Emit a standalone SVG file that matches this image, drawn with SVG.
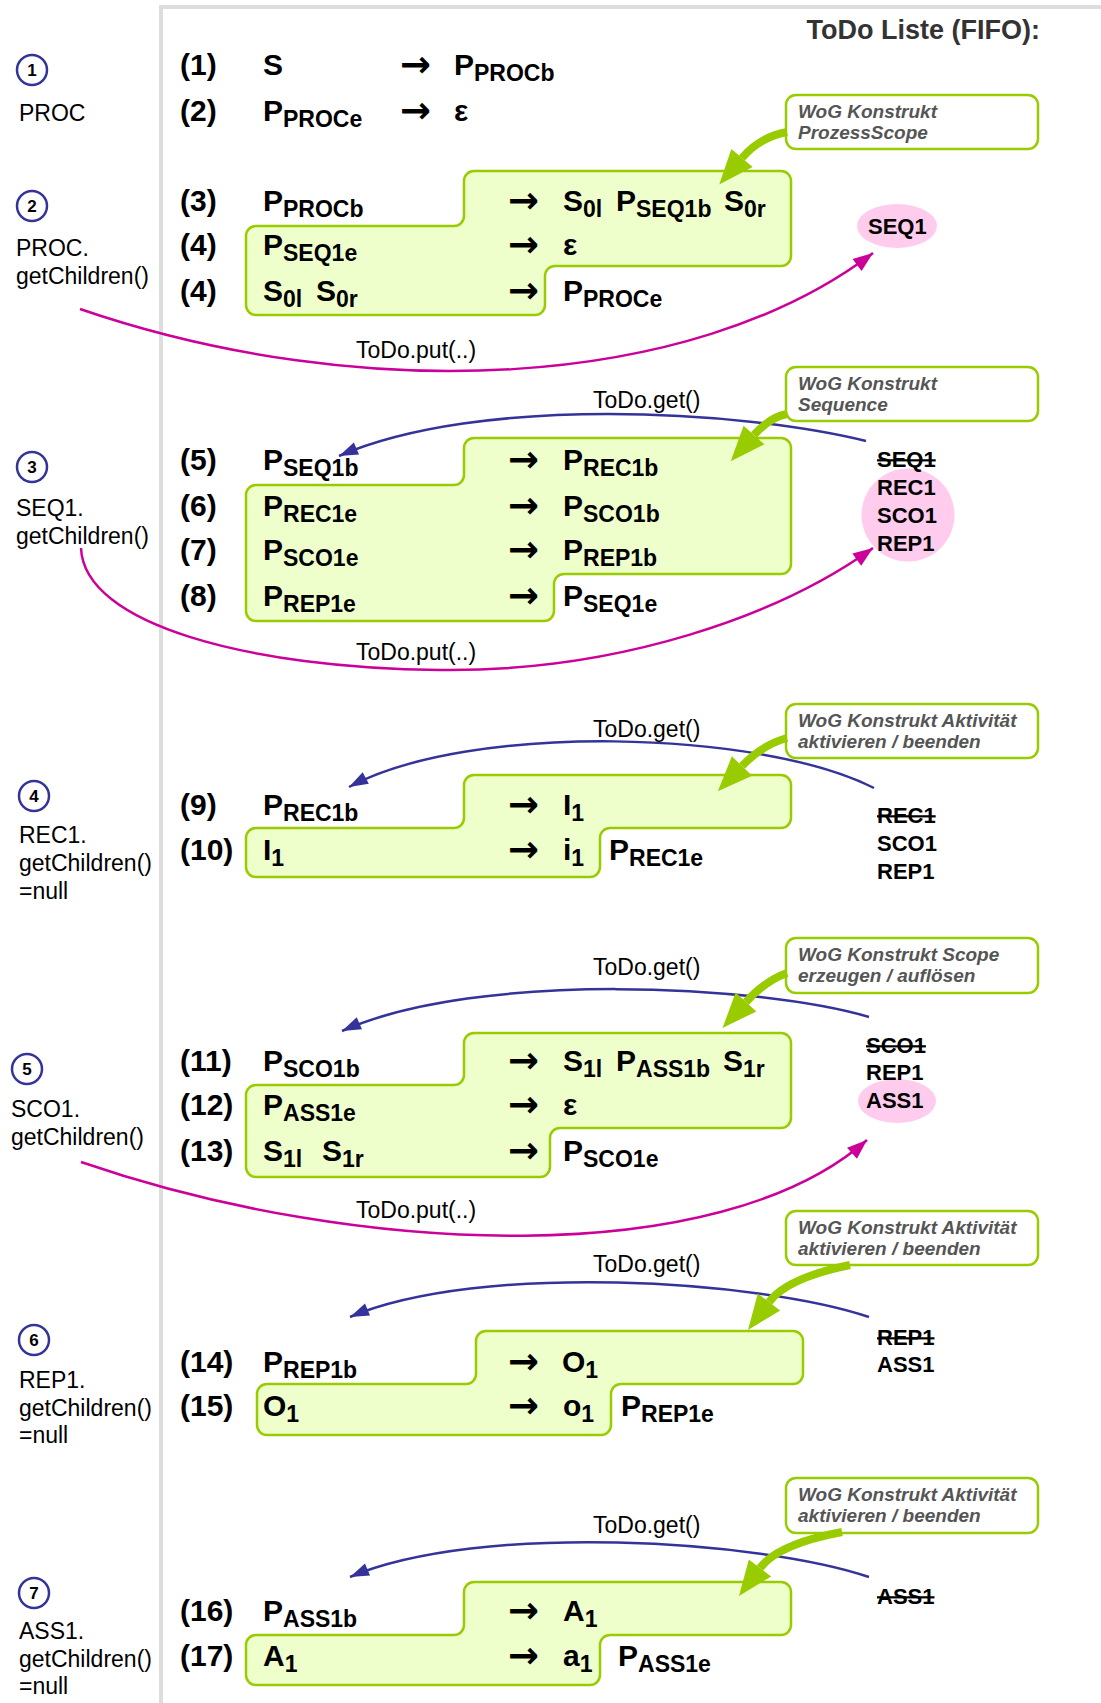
<svg xmlns="http://www.w3.org/2000/svg" width="1101" height="1703" viewBox="0 0 1101 1703">
<style>
  text { font-family: "Liberation Sans", Arial, sans-serif; fill: #000; }
  .lbl { font-size: 23px; }
  .num { font-size: 17px; font-weight: bold; text-anchor: middle; }
  .r { font-size: 30px; font-weight: bold; }
  .sub { font-size: 23px; }
  .arr { font-family: "DejaVu Sans", sans-serif; font-size: 37px; font-weight: bold; }
  .q { font-size: 22px; font-weight: bold; }
  .done { text-decoration: line-through; }
  .wog { font-size: 19px; font-weight: bold; font-style: italic; fill: #555; }
  .todo { font-size: 23px; }
  .title { font-size: 27px; font-weight: bold; fill: #333; text-anchor: end; }
  .step { fill: none; stroke: #333399; stroke-width: 2.5; }
  .block { fill: #eeffcc; stroke: #99cc00; stroke-width: 2.5; }
  .box { fill: #fff; stroke: #99cc00; stroke-width: 2.5; }
  .mark { fill: #ffccee; }
  .get { fill: none; stroke: #333399; stroke-width: 2.5; marker-end: url(#headGet); }
  .put { fill: none; stroke: #cc0099; stroke-width: 2.5; marker-end: url(#headPut); }
  .hint { fill: none; stroke: #99cc00; stroke-width: 8; marker-end: url(#headHint); }
</style>
<defs>
  <marker id="headGet" markerUnits="userSpaceOnUse" markerWidth="20" markerHeight="14" refX="19" refY="6.5" orient="auto" overflow="visible">
    <path d="M0,0 L19,6.5 L0,13 Z" fill="#333399"/>
  </marker>
  <marker id="headPut" markerUnits="userSpaceOnUse" markerWidth="21" markerHeight="16" refX="20" refY="7.5" orient="auto" overflow="visible">
    <path d="M0,0 L20,7.5 L0,15 Z" fill="#cc0099"/>
  </marker>
  <marker id="headHint" markerUnits="userSpaceOnUse" markerWidth="36" markerHeight="30" refX="0" refY="14" orient="auto" overflow="visible">
    <path d="M0,0 L35,14 L0,28 Z" fill="#99cc00"/>
  </marker>
</defs>

<rect width="1101" height="1703" fill="#fff"/>

<!-- frame -->
<g id="frame">
  <path d="M161,1703 L161,7 L1101,7" fill="none" stroke="#dddddd" stroke-width="4"/>
  <text class="title" x="1040" y="39">ToDo Liste (FIFO):</text>
</g>

<!-- call steps on the left -->
<g id="step-1">
  <circle class="step" cx="32" cy="70" r="15"/>
  <text class="num" x="32" y="76">1</text>
  <text class="lbl" x="19" y="121">PROC</text>
</g>
<g id="step-2">
  <circle class="step" cx="32" cy="206" r="15"/>
  <text class="num" x="32" y="212">2</text>
  <text class="lbl" x="16" y="256">PROC.</text>
  <text class="lbl" x="16" y="284">getChildren()</text>
</g>
<g id="step-3">
  <circle class="step" cx="32" cy="467" r="15"/>
  <text class="num" x="32" y="473">3</text>
  <text class="lbl" x="16" y="516">SEQ1.</text>
  <text class="lbl" x="16" y="544">getChildren()</text>
</g>
<g id="step-4">
  <circle class="step" cx="34" cy="796" r="15"/>
  <text class="num" x="34" y="802">4</text>
  <text class="lbl" x="19" y="843">REC1.</text>
  <text class="lbl" x="19" y="871">getChildren()</text>
  <text class="lbl" x="19" y="899">=null</text>
</g>
<g id="step-5">
  <circle class="step" cx="27" cy="1069" r="15"/>
  <text class="num" x="27" y="1075">5</text>
  <text class="lbl" x="11" y="1117">SCO1.</text>
  <text class="lbl" x="11" y="1145">getChildren()</text>
</g>
<g id="step-6">
  <circle class="step" cx="34" cy="1340" r="15"/>
  <text class="num" x="34" y="1346">6</text>
  <text class="lbl" x="19" y="1388">REP1.</text>
  <text class="lbl" x="19" y="1416">getChildren()</text>
  <text class="lbl" x="19" y="1443">=null</text>
</g>
<g id="step-7">
  <circle class="step" cx="34" cy="1593" r="15"/>
  <text class="num" x="34" y="1599">7</text>
  <text class="lbl" x="19" y="1639">ASS1.</text>
  <text class="lbl" x="19" y="1667">getChildren()</text>
  <text class="lbl" x="19" y="1694">=null</text>
</g>

<!-- grammar rules -->
<g id="rules-proc">
  <text class="r" x="180" y="75">(1)</text>
  <text class="r" x="263" y="75">S</text>
  <text class="arr" x="400" y="77">→</text>
  <text class="r" x="454" y="75">P<tspan class="sub" dy="6">PROCb</tspan></text>
  <text class="r" x="180" y="121">(2)</text>
  <text class="r" x="263" y="121">P<tspan class="sub" dy="6">PROCe</tspan></text>
  <text class="arr" x="400" y="123">→</text>
  <text class="r" x="454" y="121">ε</text>
</g>

<g id="rules-proc-children">
  <path class="block" d="M464,181 A10,10 0 0 1 474,171 L781,171 A10,10 0 0 1 791,181 L791,256 A10,10 0 0 1 781,266 L555,266 A10,10 0 0 0 545,276 L545,305 A10,10 0 0 1 535,315 L256,315 A10,10 0 0 1 246,305 L246,236 A10,10 0 0 1 256,226 L454,226 A10,10 0 0 0 464,216 Z"/>
  <text class="r" x="180" y="211">(3)</text>
  <text class="r" x="263" y="211">P<tspan class="sub" dy="6">PROCb</tspan></text>
  <text class="arr" x="508" y="213">→</text>
  <text class="r" x="563" y="211">S<tspan class="sub" dy="6">0l</tspan></text>
  <text class="r" x="616" y="211">P<tspan class="sub" dy="6">SEQ1b</tspan></text>
  <text class="r" x="724" y="211">S<tspan class="sub" dy="6">0r</tspan></text>
  <text class="r" x="180" y="255">(4)</text>
  <text class="r" x="263" y="255">P<tspan class="sub" dy="6">SEQ1e</tspan></text>
  <text class="arr" x="508" y="257">→</text>
  <text class="r" x="563" y="255">ε</text>
  <text class="r" x="180" y="301">(4)</text>
  <text class="r" x="263" y="301">S<tspan class="sub" dy="6">0l</tspan></text>
  <text class="r" x="316" y="301">S<tspan class="sub" dy="6">0r</tspan></text>
  <text class="arr" x="508" y="303">→</text>
  <text class="r" x="563" y="301">P<tspan class="sub" dy="6">PROCe</tspan></text>
</g>

<g id="rules-seq1">
  <path class="block" d="M464,448 A10,10 0 0 1 474,438 L781,438 A10,10 0 0 1 791,448 L791,564 A10,10 0 0 1 781,574 L564,574 A10,10 0 0 0 554,584 L554,611 A10,10 0 0 1 544,621 L256,621 A10,10 0 0 1 246,611 L246,495 A10,10 0 0 1 256,485 L454,485 A10,10 0 0 0 464,475 Z"/>
  <text class="r" x="180" y="470">(5)</text>
  <text class="r" x="263" y="470">P<tspan class="sub" dy="6">SEQ1b</tspan></text>
  <text class="arr" x="508" y="472">→</text>
  <text class="r" x="563" y="470">P<tspan class="sub" dy="6">REC1b</tspan></text>
  <text class="r" x="180" y="516">(6)</text>
  <text class="r" x="263" y="516">P<tspan class="sub" dy="6">REC1e</tspan></text>
  <text class="arr" x="508" y="518">→</text>
  <text class="r" x="563" y="516">P<tspan class="sub" dy="6">SCO1b</tspan></text>
  <text class="r" x="180" y="560">(7)</text>
  <text class="r" x="263" y="560">P<tspan class="sub" dy="6">SCO1e</tspan></text>
  <text class="arr" x="508" y="562">→</text>
  <text class="r" x="563" y="560">P<tspan class="sub" dy="6">REP1b</tspan></text>
  <text class="r" x="180" y="606">(8)</text>
  <text class="r" x="263" y="606">P<tspan class="sub" dy="6">REP1e</tspan></text>
  <text class="arr" x="508" y="608">→</text>
  <text class="r" x="563" y="606">P<tspan class="sub" dy="6">SEQ1e</tspan></text>
</g>

<g id="rules-rec1">
  <path class="block" d="M464,785 A10,10 0 0 1 474,775 L781,775 A10,10 0 0 1 791,785 L791,818 A10,10 0 0 1 781,828 L610,828 A10,10 0 0 0 600,838 L600,867 A10,10 0 0 1 590,877 L256,877 A10,10 0 0 1 246,867 L246,838 A10,10 0 0 1 256,828 L454,828 A10,10 0 0 0 464,818 Z"/>
  <text class="r" x="180" y="815">(9)</text>
  <text class="r" x="263" y="815">P<tspan class="sub" dy="6">REC1b</tspan></text>
  <text class="arr" x="508" y="817">→</text>
  <text class="r" x="563" y="815">I<tspan class="sub" dy="6">1</tspan></text>
  <text class="r" x="180" y="860">(10)</text>
  <text class="r" x="263" y="860">I<tspan class="sub" dy="6">1</tspan></text>
  <text class="arr" x="508" y="862">→</text>
  <text class="r" x="563" y="860">i<tspan class="sub" dy="6">1</tspan></text>
  <text class="r" x="609" y="860">P<tspan class="sub" dy="6">REC1e</tspan></text>
</g>

<g id="rules-sco1">
  <path class="block" d="M464,1043 A10,10 0 0 1 474,1033 L781,1033 A10,10 0 0 1 791,1043 L791,1118 A10,10 0 0 1 781,1128 L560,1128 A10,10 0 0 0 550,1138 L550,1167 A10,10 0 0 1 540,1177 L256,1177 A10,10 0 0 1 246,1167 L246,1095 A10,10 0 0 1 256,1085 L454,1085 A10,10 0 0 0 464,1075 Z"/>
  <text class="r" x="180" y="1071">(11)</text>
  <text class="r" x="263" y="1071">P<tspan class="sub" dy="6">SCO1b</tspan></text>
  <text class="arr" x="508" y="1073">→</text>
  <text class="r" x="563" y="1071">S<tspan class="sub" dy="6">1l</tspan></text>
  <text class="r" x="616" y="1071">P<tspan class="sub" dy="6">ASS1b</tspan></text>
  <text class="r" x="723" y="1071">S<tspan class="sub" dy="6">1r</tspan></text>
  <text class="r" x="180" y="1115">(12)</text>
  <text class="r" x="263" y="1115">P<tspan class="sub" dy="6">ASS1e</tspan></text>
  <text class="arr" x="508" y="1117">→</text>
  <text class="r" x="563" y="1115">ε</text>
  <text class="r" x="180" y="1161">(13)</text>
  <text class="r" x="263" y="1161">S<tspan class="sub" dy="6">1l</tspan></text>
  <text class="r" x="322" y="1161">S<tspan class="sub" dy="6">1r</tspan></text>
  <text class="arr" x="508" y="1163">→</text>
  <text class="r" x="563" y="1161">P<tspan class="sub" dy="6">SCO1e</tspan></text>
</g>

<g id="rules-rep1">
  <path class="block" d="M476,1341 A10,10 0 0 1 486,1331 L793,1331 A10,10 0 0 1 803,1341 L803,1374 A10,10 0 0 1 793,1384 L621,1384 A10,10 0 0 0 611,1394 L611,1425 A10,10 0 0 1 601,1435 L267,1435 A10,10 0 0 1 257,1425 L257,1394 A10,10 0 0 1 267,1384 L466,1384 A10,10 0 0 0 476,1374 Z"/>
  <text class="r" x="180" y="1372">(14)</text>
  <text class="r" x="263" y="1372">P<tspan class="sub" dy="6">REP1b</tspan></text>
  <text class="arr" x="508" y="1374">→</text>
  <text class="r" x="562" y="1372">O<tspan class="sub" dy="6">1</tspan></text>
  <text class="r" x="180" y="1416">(15)</text>
  <text class="r" x="263" y="1416">O<tspan class="sub" dy="6">1</tspan></text>
  <text class="arr" x="508" y="1418">→</text>
  <text class="r" x="563" y="1416">o<tspan class="sub" dy="6">1</tspan></text>
  <text class="r" x="621" y="1416">P<tspan class="sub" dy="6">REP1e</tspan></text>
</g>

<g id="rules-ass1">
  <path class="block" d="M464,1592 A10,10 0 0 1 474,1582 L781,1582 A10,10 0 0 1 791,1592 L791,1625 A10,10 0 0 1 781,1635 L610,1635 A10,10 0 0 0 600,1645 L600,1675 A10,10 0 0 1 590,1685 L256,1685 A10,10 0 0 1 246,1675 L246,1645 A10,10 0 0 1 256,1635 L454,1635 A10,10 0 0 0 464,1625 Z"/>
  <text class="r" x="180" y="1621">(16)</text>
  <text class="r" x="263" y="1621">P<tspan class="sub" dy="6">ASS1b</tspan></text>
  <text class="arr" x="508" y="1623">→</text>
  <text class="r" x="563" y="1621">A<tspan class="sub" dy="6">1</tspan></text>
  <text class="r" x="180" y="1666">(17)</text>
  <text class="r" x="263" y="1666">A<tspan class="sub" dy="6">1</tspan></text>
  <text class="arr" x="508" y="1668">→</text>
  <text class="r" x="563" y="1666">a<tspan class="sub" dy="6">1</tspan></text>
  <text class="r" x="618" y="1666">P<tspan class="sub" dy="6">ASS1e</tspan></text>
</g>

<!-- WoG construct notes -->
<g id="wog-prozessscope">
  <rect class="box" x="786" y="95" width="252" height="54" rx="10"/>
  <text class="wog" x="798" y="118">WoG Konstrukt</text>
  <text class="wog" x="798" y="139">ProzessScope</text>
</g>
<g id="wog-sequence">
  <rect class="box" x="786" y="367" width="252" height="54" rx="10"/>
  <text class="wog" x="798" y="390">WoG Konstrukt</text>
  <text class="wog" x="798" y="411">Sequence</text>
</g>
<g id="wog-aktivitaet-1">
  <rect class="box" x="786" y="704" width="252" height="54" rx="10"/>
  <text class="wog" x="798" y="727">WoG Konstrukt Aktivität</text>
  <text class="wog" x="798" y="748">aktivieren / beenden</text>
</g>
<g id="wog-scope">
  <rect class="box" x="786" y="938" width="252" height="55" rx="10"/>
  <text class="wog" x="798" y="961">WoG Konstrukt Scope</text>
  <text class="wog" x="798" y="982">erzeugen / auflösen</text>
</g>
<g id="wog-aktivitaet-2">
  <rect class="box" x="786" y="1211" width="252" height="54" rx="10"/>
  <text class="wog" x="798" y="1234">WoG Konstrukt Aktivität</text>
  <text class="wog" x="798" y="1255">aktivieren / beenden</text>
</g>
<g id="wog-aktivitaet-3">
  <rect class="box" x="786" y="1478" width="252" height="55" rx="10"/>
  <text class="wog" x="798" y="1501">WoG Konstrukt Aktivität</text>
  <text class="wog" x="798" y="1522">aktivieren / beenden</text>
</g>

<!-- ToDo queue states -->
<g id="queue-1">
  <ellipse class="mark" cx="897" cy="226" rx="40" ry="22"/>
  <text class="q" x="868" y="234">SEQ1</text>
</g>
<g id="queue-2">
  <circle class="mark" cx="908" cy="515" r="46.5"/>
  <text class="q done" x="877" y="467">SEQ1</text>
  <text class="q" x="877" y="495">REC1</text>
  <text class="q" x="877" y="523">SCO1</text>
  <text class="q" x="877" y="551">REP1</text>
</g>
<g id="queue-3">
  <text class="q done" x="877" y="823">REC1</text>
  <text class="q" x="877" y="851">SCO1</text>
  <text class="q" x="877" y="879">REP1</text>
</g>
<g id="queue-4">
  <ellipse class="mark" cx="897" cy="1101" rx="39" ry="22"/>
  <text class="q done" x="866" y="1053">SCO1</text>
  <text class="q" x="866" y="1080">REP1</text>
  <text class="q" x="866" y="1108">ASS1</text>
</g>
<g id="queue-5">
  <text class="q done" x="877" y="1345">REP1</text>
  <text class="q" x="877" y="1372">ASS1</text>
</g>
<g id="queue-6">
  <text class="q done" x="877" y="1604">ASS1</text>
</g>

<!-- connectors -->
<g id="connectors">
  <path class="put" d="M80,309 C360,405 690,392 873,253"/>
  <text class="todo" x="356" y="358">ToDo.put(..)</text>

  <path class="get" d="M866,441 C740,410 480,395 339,456"/>
  <text class="todo" x="593" y="408">ToDo.get()</text>
  <path class="put" d="M81,548 C84,625 250,668 440,670 C620,672 780,615 873,548"/>
  <text class="todo" x="356" y="660">ToDo.put(..)</text>

  <path class="get" d="M874,788 C760,730 470,722 349,787"/>
  <text class="todo" x="593" y="737">ToDo.get()</text>

  <path class="get" d="M869,1017 C760,985 480,970 342,1031"/>
  <text class="todo" x="593" y="975">ToDo.get()</text>
  <path class="put" d="M81,1162 C360,1258 720,1270 867,1140"/>
  <text class="todo" x="356" y="1218">ToDo.put(..)</text>

  <path class="get" d="M869,1317 C760,1280 480,1262 350,1317"/>
  <text class="todo" x="593" y="1272">ToDo.get()</text>

  <path class="get" d="M869,1577 C760,1540 480,1522 350,1577"/>
  <text class="todo" x="593" y="1533">ToDo.get()</text>

  <path class="hint" d="M787,132 Q760,137 742,158"/>
  <path class="hint" d="M787,414 Q770,417 754,435"/>
  <path class="hint" d="M787,738 Q762,745 742,766"/>
  <path class="hint" d="M787,973 Q765,981 746,1002"/>
  <path class="hint" d="M850,1265 Q787,1278 769,1302"/>
  <path class="hint" d="M842,1532 Q778,1544 760,1568"/>
</g>
</svg>
